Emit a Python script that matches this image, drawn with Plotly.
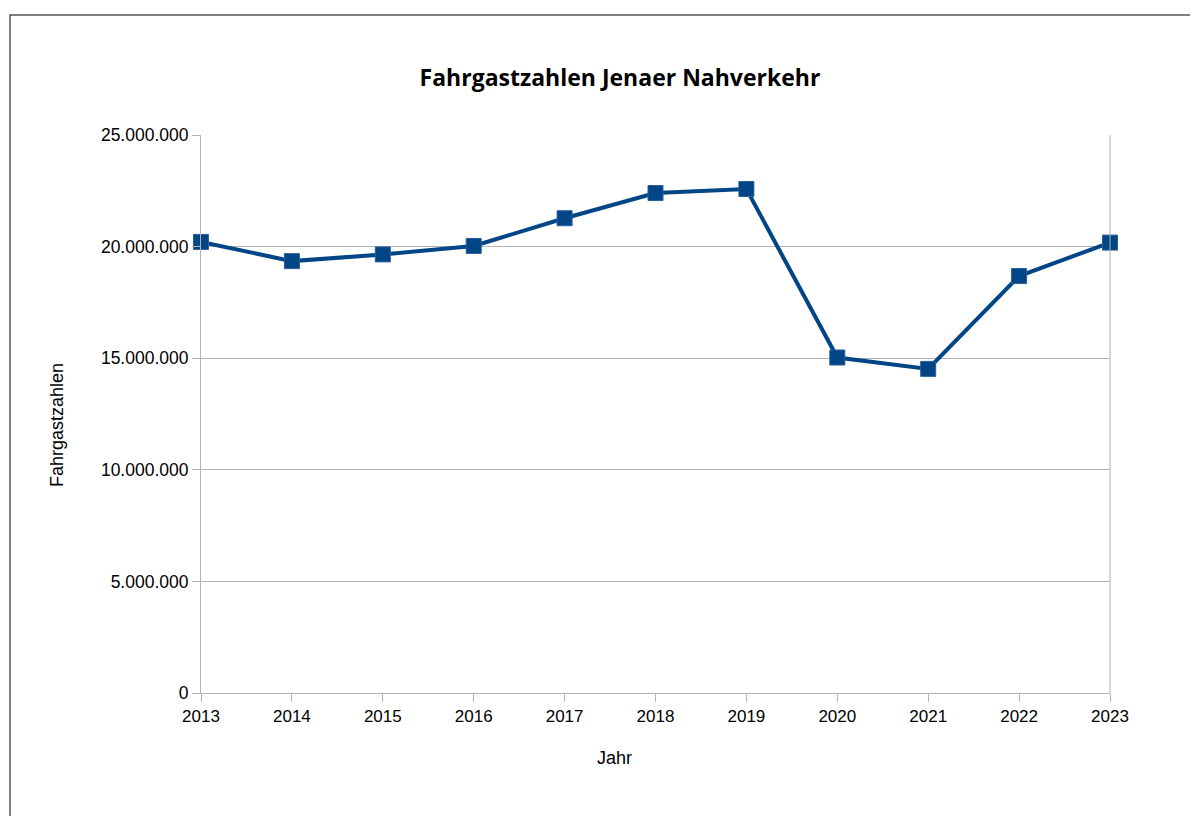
import plotly.graph_objects as go

years = ["2013", "2014", "2015", "2016", "2017", "2018", "2019", "2020", "2021", "2022", "2023"]
passengers = [20210000, 19350000, 19650000, 20030000, 21270000, 22400000, 22580000,
              15030000, 14520000, 18680000, 20180000]
ytick_vals = [0, 5000000, 10000000, 15000000, 20000000, 25000000]
ytick_text = ["0", "5.000.000", "10.000.000", "15.000.000", "20.000.000", "25.000.000"]

OFF = 8  # page body margin
W, H = 1198, 816
L, R, T, B = 201 - OFF, 88 + OFF, 135 - OFF, 123 + OFF
pw, ph = W - L - R, H - T - B


def px_x(x):
    return (x - OFF - L) / pw


def px_y(y):
    return (H - B - (y - OFF)) / ph


fig = go.Figure()
fig.add_trace(go.Scatter(
    x=years, y=passengers, mode="lines+markers",
    line=dict(color="#004586", width=4),
    marker=dict(symbol="square", size=15, color="#004586",
                line=dict(color="#2a5f9a", width=1)),
    showlegend=False, cliponaxis=False,
))

grid = "#b3b3b3"
fig.update_layout(
    width=W, height=H,
    margin=dict(l=L, r=R, t=T, b=B),
    paper_bgcolor="white", plot_bgcolor="white",
    font=dict(family="Liberation Sans, Arial, sans-serif", size=17, color="#000000"),
    title=dict(text="<b>Fahrgastzahlen Jenaer Nahverkehr</b>",
               font=dict(family="Open Sans, sans-serif", size=23, color="#000000"),
               x=(620 - OFF) / W, xanchor="center", y=1 - (78 - OFF) / H, yanchor="middle"),
    xaxis=dict(
        type="category", range=[0, 10],
        showline=True, linecolor=grid, linewidth=1, mirror=False,
        showgrid=False, ticks="outside", ticklen=8, tickcolor=grid,
        tickfont=dict(size=17),
        zeroline=False,
    ),
    yaxis=dict(
        range=[0, 25000000], tickvals=ytick_vals, ticktext=ytick_text,
        showline=True, linecolor=grid, linewidth=1,
        showgrid=True, gridcolor=grid, gridwidth=1,
        ticks="outside", ticklen=8, tickcolor=grid,
        tickfont=dict(size=17.5),
        zeroline=False,
    ),
    annotations=[
        dict(text="Jahr", xref="paper", yref="paper", x=px_x(614), y=px_y(758),
             xanchor="center", yanchor="middle", showarrow=False, font=dict(size=18)),
        dict(text="Fahrgastzahlen", xref="paper", yref="paper", x=px_x(57), y=px_y(425),
             xanchor="center", yanchor="middle", showarrow=False, textangle=-90,
             font=dict(size=18)),
    ],
    shapes=[
        dict(type="line", xref="paper", yref="paper", x0=1, x1=1, y0=0, y1=1,
             line=dict(color=grid, width=1)),
        dict(type="rect", xref="paper", yref="paper",
             x0=px_x(10), x1=px_x(W + 30),
             y0=px_y(H + 30), y1=px_y(15),
             line=dict(color="#555555", width=1.5), fillcolor="rgba(0,0,0,0)", layer="below"),
    ],
)

fig.write_html("out.html")
